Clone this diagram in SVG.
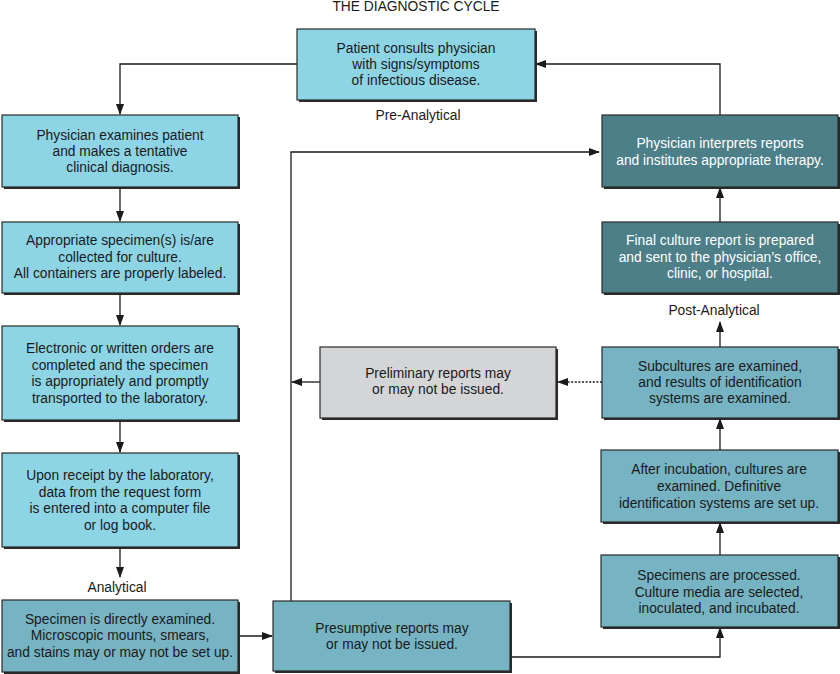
<svg xmlns="http://www.w3.org/2000/svg" width="840" height="674" viewBox="0 0 840 674">
<defs>
<marker id="ah" markerUnits="userSpaceOnUse" markerWidth="12" markerHeight="10" refX="10" refY="4" orient="auto">
<path d="M0,0 L11,4 L0,8 Z" fill="#1a1a1a"/>
</marker>
</defs>
<style>
text{font-family:"Liberation Sans",Arial,sans-serif;font-size:13.8px;fill:#1a1a1a;text-anchor:middle}
.lbl{font-size:13.8px}
.sh{fill:#2a2a2a}
.box{stroke:#2a2a2a;stroke-width:1.2}
.pre{fill:#8dd4e5}
.ana{fill:#76b3c3}
.post{fill:#4d7f88}
.gray{fill:#d4d5d7}
.w{fill:#ffffff}
.c{fill:none;stroke:#1a1a1a;stroke-width:1.3}
</style>
<rect width="840" height="674" fill="#ffffff"/>
<text x="416" y="11">THE DIAGNOSTIC CYCLE</text>
<text class="lbl" x="418" y="120">Pre-Analytical</text>
<text class="lbl" x="117" y="592">Analytical</text>
<text class="lbl" x="714" y="315">Post-Analytical</text>

<g id="connectors">
<path class="c" d="M297,64 H120 V114" marker-end="url(#ah)"/>
<path class="c" d="M720,115 V64 H536" marker-end="url(#ah)"/>
<path class="c" d="M120,187 V221" marker-end="url(#ah)"/>
<path class="c" d="M120,293 V325" marker-end="url(#ah)"/>
<path class="c" d="M120,420 V452" marker-end="url(#ah)"/>
<path class="c" d="M120,547 V577" marker-end="url(#ah)"/>
<path class="c" d="M238,636 H272" marker-end="url(#ah)"/>
<path class="c" d="M291,601 V152 H599" marker-end="url(#ah)"/>
<path class="c" d="M510,657 H720 V628" marker-end="url(#ah)"/>
<path class="c" d="M720,555 V523" marker-end="url(#ah)"/>
<path class="c" d="M720,450 V419" marker-end="url(#ah)"/>
<path class="c" d="M720,347 V322" marker-end="url(#ah)"/>
<path class="c" d="M720,222 V188" marker-end="url(#ah)"/>
<path class="c" d="M320,382 H292" marker-end="url(#ah)"/>
<path class="c" d="M602,382 H558" stroke-dasharray="2,1.6" marker-end="url(#ah)"/>
</g>

<g id="n-patient">
<rect class="sh" x="299" y="31" width="238" height="71"/>
<rect class="box pre" x="297" y="29" width="238" height="71"/>
<text x="416" y="53">Patient consults physician</text>
<text x="416" y="69">with signs/symptoms</text>
<text x="416" y="85">of infectious disease.</text>
</g>

<g id="n-examine">
<rect class="sh" x="4" y="117" width="236" height="72"/>
<rect class="box pre" x="2" y="115" width="236" height="72"/>
<text x="120" y="140">Physician examines patient</text>
<text x="120" y="156">and makes a tentative</text>
<text x="120" y="172">clinical diagnosis.</text>
</g>

<g id="n-specimen">
<rect class="sh" x="4" y="224" width="236" height="71"/>
<rect class="box pre" x="2" y="222" width="236" height="71"/>
<text x="120" y="245">Appropriate specimen(s) is/are</text>
<text x="120" y="262">collected for culture.</text>
<text x="120" y="278">All containers are properly labeled.</text>
</g>

<g id="n-orders">
<rect class="sh" x="4" y="328" width="236" height="94"/>
<rect class="box pre" x="2" y="326" width="236" height="94"/>
<text x="120" y="353">Electronic or written orders are</text>
<text x="120" y="369.5">completed and the specimen</text>
<text x="120" y="386">is appropriately and promptly</text>
<text x="120" y="402.5">transported to the laboratory.</text>
</g>

<g id="n-receipt">
<rect class="sh" x="4" y="455" width="236" height="94"/>
<rect class="box pre" x="2" y="453" width="236" height="94"/>
<text x="120" y="480">Upon receipt by the laboratory,</text>
<text x="120" y="496.5">data from the request form</text>
<text x="120" y="513">is entered into a computer file</text>
<text x="120" y="529.5">or log book.</text>
</g>

<g id="n-direct">
<rect class="sh" x="4" y="602" width="236" height="72"/>
<rect class="box ana" x="2" y="600" width="236" height="72"/>
<text x="120" y="624">Specimen is directly examined.</text>
<text x="120" y="640">Microscopic mounts, smears,</text>
<text x="120" y="657">and stains may or may not be set up.</text>
</g>

<g id="n-presumptive">
<rect class="sh" x="275" y="603" width="237" height="70"/>
<rect class="box ana" x="273" y="601" width="237" height="70"/>
<text x="392" y="633">Presumptive reports may</text>
<text x="392" y="649">or may not be issued.</text>
</g>

<g id="n-processed">
<rect class="sh" x="603" y="557" width="237" height="72"/>
<rect class="box ana" x="601" y="555" width="237" height="72"/>
<text x="719" y="580">Specimens are processed.</text>
<text x="719" y="596.5">Culture media are selected,</text>
<text x="719" y="613">inoculated, and incubated.</text>
</g>

<g id="n-incubation">
<rect class="sh" x="603" y="452" width="237" height="72"/>
<rect class="box ana" x="601" y="450" width="237" height="72"/>
<text x="719" y="474">After incubation, cultures are</text>
<text x="719" y="491">examined. Definitive</text>
<text x="719" y="508">identification systems are set up.</text>
</g>

<g id="n-subcultures">
<rect class="sh" x="604" y="349" width="236" height="71"/>
<rect class="box ana" x="602" y="347" width="236" height="71"/>
<text x="720" y="371">Subcultures are examined,</text>
<text x="720" y="387">and results of identification</text>
<text x="720" y="403">systems are examined.</text>
</g>

<g id="n-preliminary">
<rect class="sh" x="322" y="349" width="236" height="71"/>
<rect class="box gray" x="320" y="347" width="236" height="71"/>
<text x="438" y="378">Preliminary reports may</text>
<text x="438" y="394">or may not be issued.</text>
</g>

<g id="n-final">
<rect class="sh" x="604" y="224" width="236" height="71"/>
<rect class="box post" x="602" y="222" width="236" height="71"/>
<text class="w" x="720" y="245">Final culture report is prepared</text>
<text class="w" x="720" y="262">and sent to the physician’s office,</text>
<text class="w" x="720" y="278">clinic, or hospital.</text>
</g>

<g id="n-interprets">
<rect class="sh" x="604" y="117" width="236" height="72"/>
<rect class="box post" x="602" y="115" width="236" height="72"/>
<text class="w" x="720" y="148">Physician interprets reports</text>
<text class="w" x="720" y="165">and institutes appropriate therapy.</text>
</g>
</svg>
